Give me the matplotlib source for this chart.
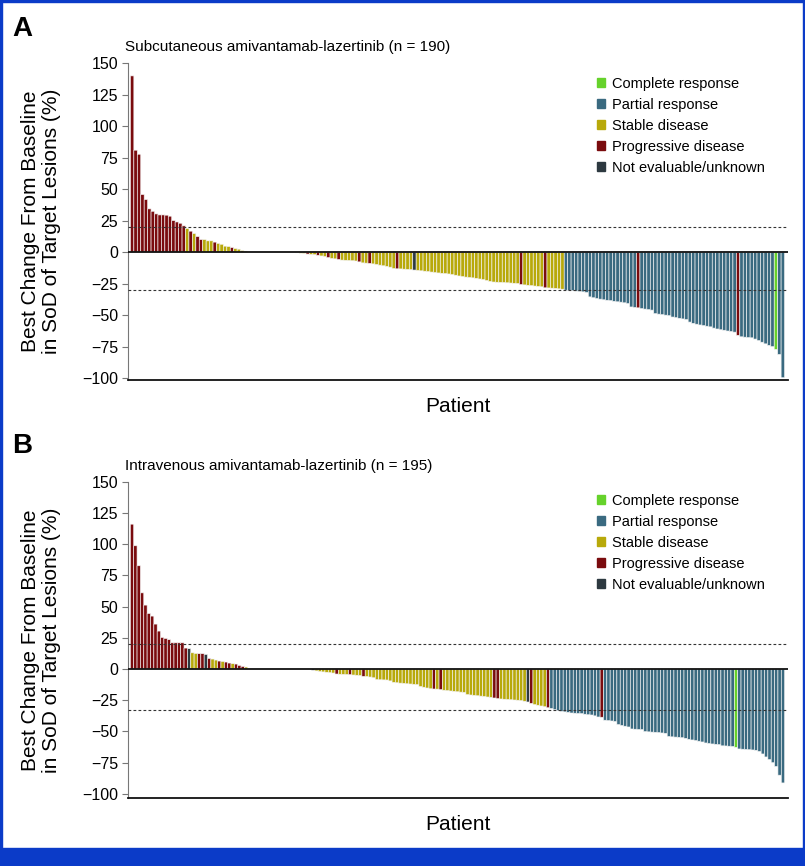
import matplotlib
matplotlib.use("Agg")
import matplotlib.pyplot as plt
from matplotlib.patches import Patch, Rectangle

plt.rcParams['font.family'] = ['Liberation Sans', 'DejaVu Sans']

# response codes: C complete, R partial, S stable, P progressive, N not evaluable
colours = {"C": "#66d22b", "R": "#3a6a80", "S": "#b8a90a", "P": "#7a0b0e", "N": "#2d3940"}
legend_labels = {"C": "Complete response", "R": "Partial response", "S": "Stable disease",
                 "P": "Progressive disease", "N": "Not evaluable/unknown"}
legend_order = ["C", "R", "S", "P", "N"]

title_a = "Subcutaneous amivantamab-lazertinib (n = 190)"
title_b = "Intravenous amivantamab-lazertinib (n = 195)"

# Panel A, best % change per patient (sorted)
change_a = [
    140, 81, 77.8, 45.8, 41.8, 34.4, 32.5, 30.4, 29.6, 29.6,
    29.4, 28.6, 25.1, 24, 23, 20.9, 18.8, 16.7, 14.8, 12.4,
    10, 10, 9, 9, 8, 7, 6.3, 4.8, 4.5, 3.7,
    2.9, 2.4, 1.3, 0.8, 0, 0, 0, 0, 0, 0,
    0, 0, 0, 0, 0, 0, 0, 0, -0.5, -0.8,
    -1.0, -1.5, -1.8, -2.0, -2.5, -3.0, -3.5, -4.3, -5.0, -5.3,
    -5.8, -6.3, -6.5, -6.6, -6.8, -7.0, -7.7, -8.5, -8.7, -8.9,
    -9.3, -9.8, -10.3, -10.8, -11.3, -11.9, -13.0, -13.2, -13.3, -13.5,
    -13.7, -13.9, -14.2, -14.5, -14.8, -15.1, -15.4, -15.8, -16.2, -16.5,
    -16.8, -17.0, -17.3, -17.8, -18.3, -18.9, -19.4, -19.8, -20.1, -20.4,
    -20.8, -21.3, -21.8, -22.5, -23.2, -23.7, -23.9, -24.0, -24.1, -24.3,
    -24.5, -24.7, -24.9, -25.7, -26.0, -26.3, -26.6, -26.9, -27.2, -27.5,
    -28.3, -28.4, -28.6, -28.8, -29.1, -29.4, -30.2, -30.4, -30.6, -30.9,
    -31.2, -31.5, -32.0, -35.5, -36.2, -36.8, -37.3, -37.8, -38.2, -38.5,
    -39.0, -39.4, -39.7, -40.2, -40.8, -43.5, -43.9, -44.2, -44.8, -45.2,
    -45.6, -46.0, -48.8, -49.2, -49.6, -50.0, -50.4, -51.5, -52.0, -52.5,
    -53.0, -53.5, -55.5, -56.5, -57.2, -57.8, -58.3, -58.8, -59.3, -60.3,
    -61.0, -61.6, -62.0, -62.6, -63.0, -63.5, -66.0, -67.2, -67.5, -67.8,
    -68.0, -69.0, -70.2, -71.5, -72.8, -74.0, -75.0, -77.2, -81.2, -99.7,
]
response_a = list(
    "PPPPPPPPPP" "PPPPPPSPSP" "PSSSPSSSSP" "SSSSSSSSSS" "SSSSSSSSSS"
    "SPSSPSSPSS" "PSSSSSPSSP" "SSSSSSSPSS" "SSNSSSSSSS" "SSSSSSSSSS"
    "SSSSSSSSSS" "SSSPSSSSSS" "PSSSSSRRRR" "RRRRRRRRRR" "RRRRRRRPRR"
    "RRRRRRRRRR" "RRRRRRRRRR" "RRRRRRPRRR" "RRRRRRRCRR"
)

# Panel B
change_b = [
    116, 98.7, 82.7, 61, 51.2, 44.5, 42.4, 36, 30.4, 25.3,
    24.5, 23.5, 21, 21, 21, 21, 16.8, 16.3, 13, 12.5,
    12.3, 12.3, 11.7, 8.5, 8, 7.2, 6.4, 6.1, 5.6, 4.8,
    4.3, 4, 2.9, 2.1, 1.6, 0, 0, 0, 0, 0,
    0, 0, 0, 0, 0, 0, 0, 0, 0, 0,
    0, 0, 0, 0, -1.0, -1.5, -2.0, -2.3, -2.6, -2.9,
    -3.2, -4.0, -4.2, -4.3, -4.4, -4.5, -4.8, -5.0, -5.2, -5.9,
    -6.0, -6.4, -7.0, -8.5, -8.6, -8.7, -8.8, -9.5, -10.7, -11.0,
    -11.3, -11.5, -11.8, -12.0, -12.3, -12.5, -14.0, -14.6, -15.2, -15.8,
    -16.0, -16.1, -16.5, -17.0, -17.3, -17.6, -17.9, -18.2, -18.5, -18.7,
    -20.5, -20.8, -21.1, -21.4, -21.7, -22.0, -22.4, -22.7, -23.2, -23.7,
    -24.0, -24.2, -24.4, -24.6, -24.8, -25.0, -25.3, -25.8, -26.4, -27.5,
    -28.5, -29.0, -29.6, -30.2, -31.0, -31.6, -32.5, -33.3, -33.9, -34.3,
    -34.7, -35.2, -35.4, -35.6, -35.7, -36.2, -36.6, -36.8, -37.5, -38.4,
    -38.6, -41.0, -41.3, -41.6, -42.0, -44.5, -45.2, -45.8, -46.4, -48.0,
    -48.2, -48.4, -48.5, -50.1, -50.3, -50.5, -50.7, -50.9, -51.2, -51.5,
    -54.0, -54.3, -54.5, -54.7, -55.0, -55.5, -56.3, -56.8, -57.3, -57.8,
    -58.4, -59.2, -59.6, -60.0, -60.3, -60.5, -61.5, -61.6, -61.8, -62.0,
    -62.7, -64.0, -64.2, -64.4, -64.6, -64.8, -65.1, -66.0, -68.0, -70.4,
    -72.5, -75.0, -78.0, -85.0, -91.2,
]
response_b = list(
    "PPPPPPPPPP" "PPPPPPPNSS" "PPNPSSPSPP" "SPPPSSSSSS" "SSSSSSSSSS"
    "SSSSNSSSSS" "SPSSSPSSSP" "SSSSSSSSSS" "SSSSSSSSSS" "PSPSSSSSSS"
    "SSSSSSSSPP" "SSSSSSSSNP" "SSSSPRRRRR" "RRRRRRRRRR" "PRRRRRRRRR"
    "RRRRRRRRRR" "RRRRRRRRRR" "RRRRRRRRRR" "CRRRRRRRRR" "RRRRR"
)

yticks = [150, 125, 100, 75, 50, 25, 0, -25, -50, -75, -100]

W, H = 805, 866
fig = plt.figure(figsize=(W / 100, H / 100), dpi=100)


def px(x0, y0, x1, y1):
    return [x0 / W, 1 - y1 / H, (x1 - x0) / W, (y1 - y0) / H]


def waterfall(ax, change, response, ylow, lower_cut, leg_top):
    n = len(change)
    bars = ax.bar(range(n), change, width=1.0, color=[colours[r] for r in response],
                  edgecolor="#f4f4f4", linewidth=0.45)
    for b in bars:
        b.set_snap(False)
    ax.set_xlim(-1.2, n + 0.5)
    ax.set_ylim(ylow, 150)
    ax.axhline(0, color="#111111", lw=1.3, zorder=3)
    ax.axhline(20, color="#333333", lw=0.8, ls=(0, (2.5, 2)), zorder=3)
    ax.axhline(lower_cut, color="#333333", lw=0.8, ls=(0, (2.5, 2)), zorder=3)
    for s in ["top", "right"]:
        ax.spines[s].set_visible(False)
    ax.spines["left"].set_color("#777777")
    ax.spines["bottom"].set_color("#111111")
    ax.spines["bottom"].set_linewidth(1.3)
    ax.set_xticks([])
    ax.set_yticks(yticks)
    ax.set_yticklabels([str(t).replace("-", "\u2212") for t in yticks])
    ax.tick_params(axis="y", length=4, color="#777777", labelsize=11.5, pad=3)
    ax.set_xlabel("Patient", fontsize=15, labelpad=12)
    handles = [Patch(color=colours[k], label=legend_labels[k]) for k in legend_order]
    ax.legend(handles=handles, loc="upper left", bbox_to_anchor=(597 / W, 1 - leg_top / H),
              bbox_transform=fig.transFigure, frameon=False, fontsize=10.5,
              handlelength=0.55, handleheight=0.55, handletextpad=0.5,
              labelspacing=0.48, borderpad=0, borderaxespad=0)


ax_a = fig.add_axes(px(128, 63.3, 788, 380))
waterfall(ax_a, change_a, response_a, -101.5, -30, 77)
ax_b = fig.add_axes(px(128, 481.7, 788, 798.3))
waterfall(ax_b, change_b, response_b, -103.5, -32.5, 494)

ylab = "Best Change From Baseline\nin SoD of Target Lesions (%)"
fig.text(41 / W, 1 - 221 / H, ylab, rotation=90, ha="center", va="center",
         fontsize=15, linespacing=1.15)
fig.text(41 / W, 1 - 640 / H, ylab, rotation=90, ha="center", va="center",
         fontsize=15, linespacing=1.15)

fig.text(125 / W, 1 - 47 / H, title_a, fontsize=11, ha="left", va="center")
fig.text(125 / W, 1 - 466 / H, title_b, fontsize=11, ha="left", va="center")
fig.text(12 / W, 1 - 29 / H, "A", fontsize=20, fontweight="bold", ha="left", va="center")
fig.text(12 / W, 1 - 446 / H, "B", fontsize=20, fontweight="bold", ha="left", va="center")

# blue journal frame
blue = "#0b3bc8"
fig.patches.append(Rectangle((0, 0), 1, 18 / H, transform=fig.transFigure, color=blue))
fig.patches.append(Rectangle((0, 0), 2 / W, 1, transform=fig.transFigure, color=blue))
fig.patches.append(Rectangle((1 - 2 / W, 0), 2 / W, 1, transform=fig.transFigure, color=blue))
fig.patches.append(Rectangle((0, 1 - 2 / H), 1, 2 / H, transform=fig.transFigure, color=blue))

fig.savefig("out.png", dpi=100)
